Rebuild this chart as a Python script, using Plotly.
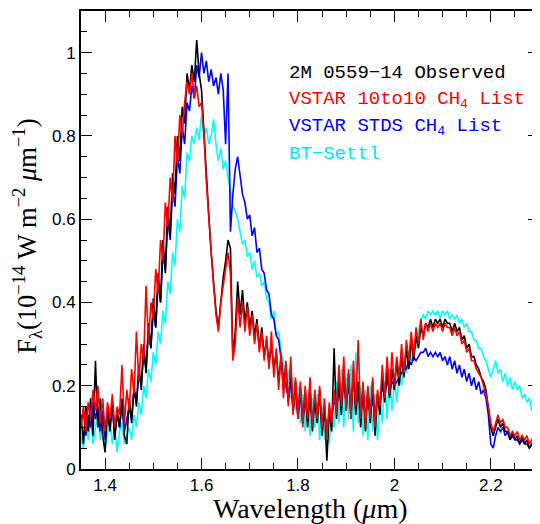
import numpy as np
import plotly.graph_objects as go

# wavelength grid (micron), 1.35 .. 2.30 in 0.005 steps
wavelength = np.round(np.arange(1.35, 2.30001, 0.005), 3)

observed = [
    0.13, 0.06, 0.15, 0.09, 0.17, 0.08, 0.26, 0.10, 0.17, 0.08,
    0.04, 0.15, 0.09, 0.16, 0.07, 0.14, 0.10, 0.17, 0.08, 0.06,
    0.17, 0.11, 0.20, 0.15, 0.25, 0.19, 0.30, 0.23, 0.35, 0.29,
    0.41, 0.34, 0.47, 0.40, 0.55, 0.47, 0.63, 0.56, 0.71, 0.66,
    0.80, 0.74, 0.87, 0.83, 0.95, 0.91, 0.97, 0.93, 1.03, 0.95,
    0.91, 0.80, 0.70, 0.61, 0.52, 0.45, 0.38, 0.34, 0.41, 0.46,
    0.50, 0.55, 0.53, 0.27, 0.33, 0.45, 0.37, 0.43, 0.35, 0.40,
    0.34, 0.38, 0.32, 0.36, 0.29, 0.34, 0.27, 0.31, 0.25, 0.30,
    0.24, 0.28, 0.21, 0.27, 0.19, 0.25, 0.16, 0.23, 0.14, 0.21,
    0.12, 0.20, 0.11, 0.19, 0.10, 0.18, 0.09, 0.17, 0.11, 0.19,
    0.08, 0.15, 0.02, 0.14, 0.09, 0.29, 0.12, 0.22, 0.13, 0.25,
    0.14, 0.23, 0.12, 0.24, 0.13, 0.21, 0.10, 0.20, 0.09, 0.19,
    0.11, 0.21, 0.08, 0.18, 0.13, 0.23, 0.16, 0.25, 0.17, 0.24,
    0.19, 0.26, 0.20, 0.27, 0.22, 0.29, 0.24, 0.31, 0.26, 0.32,
    0.29, 0.34, 0.32, 0.35, 0.34, 0.36, 0.34, 0.36, 0.35, 0.36,
    0.34, 0.36, 0.35, 0.35, 0.33, 0.35, 0.33, 0.34, 0.31, 0.32,
    0.29, 0.30, 0.27, 0.27, 0.25, 0.24, 0.22, 0.21, 0.19, 0.15,
    0.10, 0.08, 0.10, 0.12, 0.10, 0.11, 0.09, 0.09, 0.07, 0.09,
    0.07, 0.08, 0.06, 0.08, 0.06, 0.07, 0.05, 0.06, 0.05, 0.06,
    0.05,
]

vstar_10to10 = [
    0.10, 0.15, 0.09, 0.16, 0.12, 0.19, 0.14, 0.20, 0.11, 0.17,
    0.09, 0.16, 0.12, 0.18, 0.10, 0.15, 0.13, 0.25, 0.11, 0.19,
    0.14, 0.24, 0.18, 0.33, 0.21, 0.30, 0.26, 0.44, 0.30, 0.40,
    0.36, 0.48, 0.42, 0.55, 0.50, 0.64, 0.58, 0.70, 0.64, 0.80,
    0.73, 0.85, 0.80, 0.88, 0.93, 0.90, 0.95, 0.89, 0.92, 0.87,
    0.88, 0.80, 0.69, 0.60, 0.51, 0.44, 0.37, 0.33, 0.40, 0.44,
    0.49, 0.52, 0.47, 0.26, 0.30, 0.41, 0.34, 0.40, 0.33, 0.39,
    0.32, 0.37, 0.30, 0.35, 0.28, 0.33, 0.26, 0.32, 0.24, 0.33,
    0.22, 0.29, 0.19, 0.28, 0.17, 0.26, 0.15, 0.27, 0.13, 0.22,
    0.12, 0.21, 0.10, 0.20, 0.12, 0.22, 0.10, 0.19, 0.12, 0.20,
    0.10, 0.17, 0.07, 0.16, 0.11, 0.19, 0.13, 0.25, 0.15, 0.27,
    0.14, 0.24, 0.12, 0.26, 0.15, 0.31, 0.12, 0.21, 0.10, 0.20,
    0.12, 0.22, 0.10, 0.19, 0.15, 0.25, 0.17, 0.27, 0.18, 0.28,
    0.20, 0.27, 0.22, 0.30, 0.23, 0.31, 0.26, 0.33, 0.27, 0.34,
    0.30, 0.36, 0.31, 0.35, 0.33, 0.35, 0.33, 0.35, 0.34, 0.35,
    0.33, 0.35, 0.34, 0.34, 0.32, 0.34, 0.32, 0.33, 0.30, 0.31,
    0.28, 0.29, 0.26, 0.26, 0.24, 0.23, 0.22, 0.20, 0.18, 0.15,
    0.11, 0.09, 0.11, 0.13, 0.11, 0.12, 0.10, 0.10, 0.08, 0.09,
    0.08, 0.09, 0.07, 0.08, 0.07, 0.08, 0.06, 0.07, 0.06, 0.07,
    0.06,
]

vstar_stds = [
    0.11, 0.14, 0.08, 0.13, 0.10, 0.16, 0.12, 0.15, 0.09, 0.14,
    0.07, 0.13, 0.10, 0.15, 0.08, 0.13, 0.10, 0.16, 0.09, 0.12,
    0.15, 0.12, 0.19, 0.16, 0.23, 0.20, 0.28, 0.24, 0.33, 0.29,
    0.38, 0.34, 0.45, 0.40, 0.52, 0.48, 0.60, 0.55, 0.67, 0.63,
    0.75, 0.71, 0.82, 0.78, 0.88, 0.86, 0.92, 0.89, 0.97, 0.94,
    1.00, 0.95, 0.98, 0.93, 0.96, 0.92, 0.94, 0.90, 0.95, 0.91,
    0.78, 0.95, 0.57, 0.66, 0.72, 0.75, 0.70, 0.66, 0.64, 0.60,
    0.61, 0.56, 0.58, 0.52, 0.53, 0.48, 0.47, 0.43, 0.42, 0.37,
    0.36, 0.32, 0.31, 0.27, 0.22, 0.20, 0.17, 0.21, 0.14, 0.19,
    0.13, 0.18, 0.11, 0.17, 0.12, 0.19, 0.11, 0.16, 0.13, 0.18,
    0.10, 0.15, 0.08, 0.14, 0.12, 0.17, 0.14, 0.20, 0.15, 0.21,
    0.16, 0.20, 0.14, 0.22, 0.15, 0.20, 0.13, 0.19, 0.12, 0.18,
    0.13, 0.17, 0.12, 0.18, 0.16, 0.20, 0.17, 0.22, 0.18, 0.21,
    0.20, 0.21, 0.22, 0.23, 0.24, 0.24, 0.26, 0.25, 0.27, 0.26,
    0.27, 0.28, 0.28, 0.29, 0.27, 0.28, 0.27, 0.28, 0.27, 0.28,
    0.26, 0.27, 0.25, 0.27, 0.24, 0.26, 0.23, 0.25, 0.22, 0.24,
    0.21, 0.23, 0.20, 0.22, 0.19, 0.21, 0.18, 0.19, 0.17, 0.13,
    0.06, 0.05, 0.08, 0.10, 0.09, 0.10, 0.08, 0.09, 0.07, 0.08,
    0.07, 0.07, 0.06, 0.07, 0.06, 0.06, 0.05, 0.06, 0.05, 0.05,
    0.05,
]

bt_settl = [
    0.08, 0.05, 0.11, 0.07, 0.12, 0.06, 0.10, 0.13, 0.07, 0.11,
    0.05, 0.09, 0.12, 0.06, 0.10, 0.04, 0.09, 0.11, 0.06, 0.08,
    0.10, 0.07, 0.13, 0.10, 0.16, 0.13, 0.20, 0.17, 0.24, 0.21,
    0.28, 0.25, 0.33, 0.30, 0.38, 0.35, 0.45, 0.42, 0.52, 0.49,
    0.60, 0.57, 0.68, 0.65, 0.76, 0.74, 0.80, 0.78, 0.82, 0.79,
    0.85, 0.80, 0.82, 0.78, 0.80, 0.84, 0.78, 0.74, 0.77, 0.72,
    0.74, 0.70, 0.67, 0.63, 0.62, 0.60, 0.57, 0.54, 0.55, 0.51,
    0.52, 0.48, 0.50, 0.46, 0.47, 0.44, 0.45, 0.41, 0.40, 0.36,
    0.38, 0.32, 0.33, 0.28, 0.26, 0.21, 0.24, 0.17, 0.22, 0.14,
    0.20, 0.11, 0.18, 0.09, 0.19, 0.08, 0.17, 0.10, 0.18, 0.07,
    0.15, 0.07, 0.12, 0.06, 0.14, 0.10, 0.21, 0.11, 0.24, 0.10,
    0.22, 0.12, 0.25, 0.09, 0.28, 0.11, 0.20, 0.08, 0.19, 0.07,
    0.20, 0.09, 0.18, 0.07, 0.17, 0.11, 0.21, 0.12, 0.24, 0.14,
    0.21, 0.16, 0.24, 0.20, 0.26, 0.23, 0.28, 0.26, 0.30, 0.29,
    0.33, 0.36, 0.37, 0.36, 0.38, 0.37, 0.38, 0.37, 0.38, 0.36,
    0.38, 0.37, 0.38, 0.36, 0.37, 0.36, 0.37, 0.35, 0.36, 0.34,
    0.35, 0.33, 0.33, 0.31, 0.31, 0.29, 0.29, 0.27, 0.26, 0.24,
    0.22, 0.24, 0.26, 0.23, 0.24, 0.21, 0.23, 0.20, 0.22, 0.19,
    0.21, 0.19, 0.20, 0.17, 0.18, 0.16, 0.17, 0.14, 0.15, 0.12,
    0.13,
]

series_names = ["BT-Settl", "VSTAR STDS CH4 List", "2M 0559-14 Observed", "VSTAR 10to10 CH4 List"]
series_values = [bt_settl, vstar_stds, observed, vstar_10to10]
series_colors = ["#00ffff", "#0000ff", "#000000", "#ff0000"]

legend_labels = [
    "2M 0559\u221214 Observed",
    "VSTAR 10to10 CH<sub>4</sub> List",
    "VSTAR STDS CH<sub>4</sub> List",
    "BT\u2212Settl",
]
legend_colors = ["#000000", "#ff0000", "#0000ff", "#00e5ff"]

x_ticks = [1.4, 1.6, 1.8, 2.0, 2.2]
y_ticks = [0, 0.2, 0.4, 0.6, 0.8, 1.0]

fig = go.Figure()
for name, vals, col in zip(series_names, series_values, series_colors):
    fig.add_trace(go.Scatter(x=wavelength, y=vals, mode="lines", name=name,
                             line=dict(color=col, width=1.6), showlegend=False))

axis_common = dict(
    showgrid=False, zeroline=False, showline=True, linecolor="black", linewidth=2,
    mirror="allticks", ticks="inside", ticklen=11, tickwidth=1, tickcolor="black",
    tickfont=dict(family="Liberation Sans", size=17, color="black"),
)

fig.update_xaxes(range=[1.35, 2.3], tickvals=x_ticks, ticktext=["1.4", "1.6", "1.8", "2", "2.2"],
                 minor=dict(dtick=0.05, ticks="inside", ticklen=6, tickwidth=1, tickcolor="black"),
                 **axis_common)
fig.update_yaxes(range=[0, 1.1], tickvals=y_ticks, ticktext=["0", "0.2", "0.4", "0.6", "0.8", "1"],
                 minor=dict(dtick=0.05, ticks="inside", ticklen=6, tickwidth=1, tickcolor="black"),
                 **axis_common)

ann = []
legend_y = [0.865, 0.805, 0.746, 0.687]
for lab, col, yy in zip(legend_labels, legend_colors, legend_y):
    ann.append(dict(text=lab, x=0.449, y=yy, xref="paper", yref="paper", xanchor="left",
                    yanchor="middle", showarrow=False,
                    font=dict(family="Liberation Mono", size=19, color=col)))
ann.append(dict(text="Wavelength (<i>\u03bc</i>m)", x=0.5, y=-0.087, xref="paper", yref="paper",
                xanchor="center", yanchor="middle", showarrow=False,
                font=dict(family="Liberation Serif", size=28, color="black")))
ann.append(dict(text="F<sub>\u03bb</sub>(10<sup>\u221214</sup> W m<sup>\u22122</sup> <i>\u03bc</i>m<sup>\u22121</sup>)",
                x=-0.118, y=0.509, xref="paper", yref="paper", textangle=-90,
                xanchor="center", yanchor="middle", showarrow=False,
                font=dict(family="Liberation Serif", size=26.5, color="black")))

fig.update_layout(
    width=540, height=524, margin=dict(l=73, r=9, t=1, b=63),
    paper_bgcolor="white", plot_bgcolor="white", annotations=ann,
)

fig.write_html("out.html")
